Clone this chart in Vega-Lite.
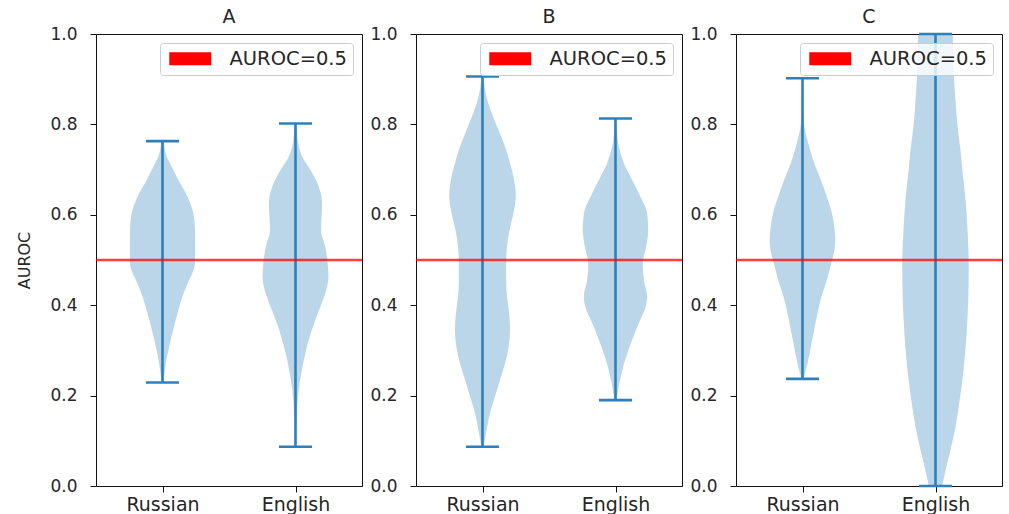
{
  "$schema": "https://vega.github.io/schema/vega-lite/v6.json",
  "background": "white",
  "padding": {"left": 16, "top": 7, "right": 5, "bottom": 0},
  "datasets": {
    "violin": [
      {"panel":"A","lang":"Russian","auroc":0.231,"lo":0.992,"hi":1.008},
      {"panel":"A","lang":"Russian","auroc":0.271,"lo":0.975,"hi":1.025},
      {"panel":"A","lang":"Russian","auroc":0.308,"lo":0.950,"hi":1.050},
      {"panel":"A","lang":"Russian","auroc":0.345,"lo":0.920,"hi":1.080},
      {"panel":"A","lang":"Russian","auroc":0.382,"lo":0.887,"hi":1.113},
      {"panel":"A","lang":"Russian","auroc":0.419,"lo":0.850,"hi":1.150},
      {"panel":"A","lang":"Russian","auroc":0.456,"lo":0.800,"hi":1.200},
      {"panel":"A","lang":"Russian","auroc":0.478,"lo":0.766,"hi":1.234},
      {"panel":"A","lang":"Russian","auroc":0.493,"lo":0.756,"hi":1.244},
      {"panel":"A","lang":"Russian","auroc":0.529,"lo":0.755,"hi":1.245},
      {"panel":"A","lang":"Russian","auroc":0.566,"lo":0.756,"hi":1.244},
      {"panel":"A","lang":"Russian","auroc":0.603,"lo":0.768,"hi":1.232},
      {"panel":"A","lang":"Russian","auroc":0.640,"lo":0.812,"hi":1.188},
      {"panel":"A","lang":"Russian","auroc":0.677,"lo":0.881,"hi":1.119},
      {"panel":"A","lang":"Russian","auroc":0.714,"lo":0.944,"hi":1.056},
      {"panel":"A","lang":"Russian","auroc":0.730,"lo":0.970,"hi":1.030},
      {"panel":"A","lang":"Russian","auroc":0.762,"lo":0.990,"hi":1.010},
      {"panel":"A","lang":"English","auroc":0.087,"lo":1.996,"hi":2.004},
      {"panel":"A","lang":"English","auroc":0.161,"lo":1.990,"hi":2.010},
      {"panel":"A","lang":"English","auroc":0.212,"lo":1.976,"hi":2.024},
      {"panel":"A","lang":"English","auroc":0.249,"lo":1.957,"hi":2.043},
      {"panel":"A","lang":"English","auroc":0.286,"lo":1.932,"hi":2.068},
      {"panel":"A","lang":"English","auroc":0.323,"lo":1.900,"hi":2.100},
      {"panel":"A","lang":"English","auroc":0.360,"lo":1.860,"hi":2.140},
      {"panel":"A","lang":"English","auroc":0.397,"lo":1.812,"hi":2.188},
      {"panel":"A","lang":"English","auroc":0.434,"lo":1.768,"hi":2.232},
      {"panel":"A","lang":"English","auroc":0.463,"lo":1.752,"hi":2.248},
      {"panel":"A","lang":"English","auroc":0.493,"lo":1.758,"hi":2.242},
      {"panel":"A","lang":"English","auroc":0.529,"lo":1.776,"hi":2.224},
      {"panel":"A","lang":"English","auroc":0.566,"lo":1.808,"hi":2.192},
      {"panel":"A","lang":"English","auroc":0.625,"lo":1.800,"hi":2.200},
      {"panel":"A","lang":"English","auroc":0.662,"lo":1.825,"hi":2.175},
      {"panel":"A","lang":"English","auroc":0.699,"lo":1.887,"hi":2.113},
      {"panel":"A","lang":"English","auroc":0.729,"lo":1.950,"hi":2.050},
      {"panel":"A","lang":"English","auroc":0.760,"lo":1.980,"hi":2.020},
      {"panel":"A","lang":"English","auroc":0.802,"lo":1.992,"hi":2.008},
      {"panel":"B","lang":"Russian","auroc":0.087,"lo":0.992,"hi":1.008},
      {"panel":"B","lang":"Russian","auroc":0.124,"lo":0.969,"hi":1.031},
      {"panel":"B","lang":"Russian","auroc":0.161,"lo":0.944,"hi":1.056},
      {"panel":"B","lang":"Russian","auroc":0.198,"lo":0.906,"hi":1.094},
      {"panel":"B","lang":"Russian","auroc":0.235,"lo":0.868,"hi":1.132},
      {"panel":"B","lang":"Russian","auroc":0.271,"lo":0.831,"hi":1.169},
      {"panel":"B","lang":"Russian","auroc":0.308,"lo":0.803,"hi":1.197},
      {"panel":"B","lang":"Russian","auroc":0.345,"lo":0.793,"hi":1.207},
      {"panel":"B","lang":"Russian","auroc":0.382,"lo":0.800,"hi":1.200},
      {"panel":"B","lang":"Russian","auroc":0.419,"lo":0.816,"hi":1.184},
      {"panel":"B","lang":"Russian","auroc":0.456,"lo":0.822,"hi":1.178},
      {"panel":"B","lang":"Russian","auroc":0.493,"lo":0.822,"hi":1.178},
      {"panel":"B","lang":"Russian","auroc":0.529,"lo":0.816,"hi":1.184},
      {"panel":"B","lang":"Russian","auroc":0.566,"lo":0.797,"hi":1.203},
      {"panel":"B","lang":"Russian","auroc":0.603,"lo":0.768,"hi":1.232},
      {"panel":"B","lang":"Russian","auroc":0.640,"lo":0.750,"hi":1.250},
      {"panel":"B","lang":"Russian","auroc":0.677,"lo":0.762,"hi":1.238},
      {"panel":"B","lang":"Russian","auroc":0.714,"lo":0.793,"hi":1.207},
      {"panel":"B","lang":"Russian","auroc":0.751,"lo":0.831,"hi":1.169},
      {"panel":"B","lang":"Russian","auroc":0.788,"lo":0.881,"hi":1.119},
      {"panel":"B","lang":"Russian","auroc":0.825,"lo":0.931,"hi":1.069},
      {"panel":"B","lang":"Russian","auroc":0.861,"lo":0.970,"hi":1.030},
      {"panel":"B","lang":"Russian","auroc":0.907,"lo":0.992,"hi":1.008},
      {"panel":"B","lang":"English","auroc":0.190,"lo":1.992,"hi":2.008},
      {"panel":"B","lang":"English","auroc":0.212,"lo":1.980,"hi":2.020},
      {"panel":"B","lang":"English","auroc":0.249,"lo":1.955,"hi":2.045},
      {"panel":"B","lang":"English","auroc":0.286,"lo":1.920,"hi":2.080},
      {"panel":"B","lang":"English","auroc":0.323,"lo":1.875,"hi":2.125},
      {"panel":"B","lang":"English","auroc":0.360,"lo":1.825,"hi":2.175},
      {"panel":"B","lang":"English","auroc":0.397,"lo":1.772,"hi":2.228},
      {"panel":"B","lang":"English","auroc":0.419,"lo":1.762,"hi":2.238},
      {"panel":"B","lang":"English","auroc":0.456,"lo":1.787,"hi":2.213},
      {"panel":"B","lang":"English","auroc":0.493,"lo":1.795,"hi":2.205},
      {"panel":"B","lang":"English","auroc":0.529,"lo":1.770,"hi":2.230},
      {"panel":"B","lang":"English","auroc":0.566,"lo":1.754,"hi":2.246},
      {"panel":"B","lang":"English","auroc":0.603,"lo":1.762,"hi":2.238},
      {"panel":"B","lang":"English","auroc":0.640,"lo":1.812,"hi":2.188},
      {"panel":"B","lang":"English","auroc":0.677,"lo":1.875,"hi":2.125},
      {"panel":"B","lang":"English","auroc":0.714,"lo":1.937,"hi":2.063},
      {"panel":"B","lang":"English","auroc":0.751,"lo":1.975,"hi":2.025},
      {"panel":"B","lang":"English","auroc":0.788,"lo":1.990,"hi":2.010},
      {"panel":"B","lang":"English","auroc":0.813,"lo":1.994,"hi":2.006},
      {"panel":"C","lang":"Russian","auroc":0.238,"lo":0.992,"hi":1.008},
      {"panel":"C","lang":"Russian","auroc":0.271,"lo":0.962,"hi":1.038},
      {"panel":"C","lang":"Russian","auroc":0.308,"lo":0.937,"hi":1.063},
      {"panel":"C","lang":"Russian","auroc":0.345,"lo":0.912,"hi":1.088},
      {"panel":"C","lang":"Russian","auroc":0.382,"lo":0.887,"hi":1.113},
      {"panel":"C","lang":"Russian","auroc":0.419,"lo":0.857,"hi":1.143},
      {"panel":"C","lang":"Russian","auroc":0.456,"lo":0.817,"hi":1.183},
      {"panel":"C","lang":"Russian","auroc":0.493,"lo":0.784,"hi":1.216},
      {"panel":"C","lang":"Russian","auroc":0.522,"lo":0.760,"hi":1.240},
      {"panel":"C","lang":"Russian","auroc":0.544,"lo":0.753,"hi":1.247},
      {"panel":"C","lang":"Russian","auroc":0.566,"lo":0.758,"hi":1.242},
      {"panel":"C","lang":"Russian","auroc":0.603,"lo":0.778,"hi":1.222},
      {"panel":"C","lang":"Russian","auroc":0.640,"lo":0.817,"hi":1.183},
      {"panel":"C","lang":"Russian","auroc":0.677,"lo":0.862,"hi":1.138},
      {"panel":"C","lang":"Russian","auroc":0.714,"lo":0.912,"hi":1.088},
      {"panel":"C","lang":"Russian","auroc":0.751,"lo":0.950,"hi":1.050},
      {"panel":"C","lang":"Russian","auroc":0.802,"lo":0.988,"hi":1.012},
      {"panel":"C","lang":"Russian","auroc":0.850,"lo":0.995,"hi":1.005},
      {"panel":"C","lang":"Russian","auroc":0.902,"lo":0.997,"hi":1.003},
      {"panel":"C","lang":"English","auroc":0.000,"lo":1.950,"hi":2.050},
      {"panel":"C","lang":"English","auroc":0.040,"lo":1.920,"hi":2.080},
      {"panel":"C","lang":"English","auroc":0.080,"lo":1.887,"hi":2.113},
      {"panel":"C","lang":"English","auroc":0.130,"lo":1.850,"hi":2.150},
      {"panel":"C","lang":"English","auroc":0.190,"lo":1.818,"hi":2.182},
      {"panel":"C","lang":"English","auroc":0.260,"lo":1.788,"hi":2.212},
      {"panel":"C","lang":"English","auroc":0.338,"lo":1.766,"hi":2.234},
      {"panel":"C","lang":"English","auroc":0.410,"lo":1.754,"hi":2.246},
      {"panel":"C","lang":"English","auroc":0.485,"lo":1.750,"hi":2.250},
      {"panel":"C","lang":"English","auroc":0.560,"lo":1.758,"hi":2.242},
      {"panel":"C","lang":"English","auroc":0.633,"lo":1.774,"hi":2.226},
      {"panel":"C","lang":"English","auroc":0.690,"lo":1.795,"hi":2.205},
      {"panel":"C","lang":"English","auroc":0.743,"lo":1.812,"hi":2.188},
      {"panel":"C","lang":"English","auroc":0.790,"lo":1.832,"hi":2.168},
      {"panel":"C","lang":"English","auroc":0.854,"lo":1.850,"hi":2.150},
      {"panel":"C","lang":"English","auroc":0.930,"lo":1.865,"hi":2.135},
      {"panel":"C","lang":"English","auroc":1.000,"lo":1.870,"hi":2.130}
    ],
    "bars": [
      {"panel":"A","lang":"Russian","min":0.229,"max":0.763},
      {"panel":"A","lang":"English","min":0.087,"max":0.802},
      {"panel":"B","lang":"Russian","min":0.087,"max":0.906},
      {"panel":"B","lang":"English","min":0.190,"max":0.813},
      {"panel":"C","lang":"Russian","min":0.237,"max":0.902},
      {"panel":"C","lang":"English","min":0.0,"max":1.0}
    ],
    "reference": [
      {"label":"AUROC=0.5","value":0.5}
    ]
  },
  "hconcat": [
    {
      "width": 266, "height": 452,
      "title": "A",
      "layer": [
        {"data": {"name": "violin"}, "transform": [{"filter": "datum.panel == 'A'"}],
         "mark": {"type": "area", "orient": "horizontal", "interpolate": "monotone", "color": "#1f77b4", "fillOpacity": 0.3, "strokeWidth": 0},
         "encoding": {
           "x": {"field": "lo", "type": "quantitative", "scale": {"domain": [0.5, 2.5], "nice": false, "zero": false}, "axis": null},
           "x2": {"field": "hi"},
           "y": {"field": "auroc", "type": "quantitative", "scale": {"domain": [0, 1], "nice": false}, "title": "AUROC", "axis": {"values": [0, 0.2, 0.4, 0.6, 0.8, 1.0], "format": ".1f"}},
           "detail": {"field": "lang"}}},
        {"data": {"name": "bars"}, "transform": [{"filter": "datum.panel == 'A'"}],
         "encoding": {
           "x": {"field": "lang", "type": "nominal", "sort": ["Russian", "English"], "scale": {"type": "point", "padding": 0.5}, "title": null, "axis": {"labelAngle": 0}}},
         "layer": [
           {"mark": {"type": "rule", "color": "#2f7fba", "strokeWidth": 2.6},
            "encoding": {"y": {"field": "min", "type": "quantitative", "title": "AUROC"}, "y2": {"field": "max"}}},
           {"mark": {"type": "tick", "orient": "horizontal", "color": "#2f7fba", "size": 33, "thickness": 2.6, "opacity": 1},
            "encoding": {"y": {"field": "min", "type": "quantitative", "title": "AUROC"}}},
           {"mark": {"type": "tick", "orient": "horizontal", "color": "#2f7fba", "size": 33, "thickness": 2.6, "opacity": 1},
            "encoding": {"y": {"field": "max", "type": "quantitative", "title": "AUROC"}}}
         ]},
        {"data": {"name": "reference"},
         "mark": {"type": "rule", "color": "#ff0000", "strokeWidth": 2.4, "opacity": 0.75},
         "encoding": {"y": {"field": "value", "type": "quantitative", "title": "AUROC"}}},
        {"data": {"name": "reference"},
         "mark": {"type": "rect", "strokeWidth": 0, "opacity": 1},
         "encoding": {
           "y": {"field": "value", "type": "quantitative", "title": "AUROC"},
           "y2": {"field": "value"},
           "color": {"field": "label", "type": "nominal", "scale": {"range": ["#ff0000"]},
             "legend": {"title": null, "symbolType": "M-1,-1H5.46V1H-1Z", "symbolSize": 169, "symbolStrokeWidth": 0}}}}
      ],
      "resolve": {"scale": {"x": "independent"}}
    },
    {
      "width": 266, "height": 452,
      "title": "B",
      "layer": [
        {"data": {"name": "violin"}, "transform": [{"filter": "datum.panel == 'B'"}],
         "mark": {"type": "area", "orient": "horizontal", "interpolate": "monotone", "color": "#1f77b4", "fillOpacity": 0.3, "strokeWidth": 0},
         "encoding": {
           "x": {"field": "lo", "type": "quantitative", "scale": {"domain": [0.5, 2.5], "nice": false, "zero": false}, "axis": null},
           "x2": {"field": "hi"},
           "y": {"field": "auroc", "type": "quantitative", "scale": {"domain": [0, 1], "nice": false}, "title": null, "axis": {"values": [0, 0.2, 0.4, 0.6, 0.8, 1.0], "format": ".1f"}},
           "detail": {"field": "lang"}}},
        {"data": {"name": "bars"}, "transform": [{"filter": "datum.panel == 'B'"}],
         "encoding": {
           "x": {"field": "lang", "type": "nominal", "sort": ["Russian", "English"], "scale": {"type": "point", "padding": 0.5}, "title": null, "axis": {"labelAngle": 0}}},
         "layer": [
           {"mark": {"type": "rule", "color": "#2f7fba", "strokeWidth": 2.6},
            "encoding": {"y": {"field": "min", "type": "quantitative", "title": null}, "y2": {"field": "max"}}},
           {"mark": {"type": "tick", "orient": "horizontal", "color": "#2f7fba", "size": 33, "thickness": 2.6, "opacity": 1},
            "encoding": {"y": {"field": "min", "type": "quantitative", "title": null}}},
           {"mark": {"type": "tick", "orient": "horizontal", "color": "#2f7fba", "size": 33, "thickness": 2.6, "opacity": 1},
            "encoding": {"y": {"field": "max", "type": "quantitative", "title": null}}}
         ]},
        {"data": {"name": "reference"},
         "mark": {"type": "rule", "color": "#ff0000", "strokeWidth": 2.4, "opacity": 0.75},
         "encoding": {"y": {"field": "value", "type": "quantitative", "title": null}}},
        {"data": {"name": "reference"},
         "mark": {"type": "rect", "strokeWidth": 0, "opacity": 1},
         "encoding": {
           "y": {"field": "value", "type": "quantitative", "title": null},
           "y2": {"field": "value"},
           "color": {"field": "label", "type": "nominal", "scale": {"range": ["#ff0000"]},
             "legend": {"title": null, "symbolType": "M-1,-1H5.46V1H-1Z", "symbolSize": 169, "symbolStrokeWidth": 0}}}}
      ],
      "resolve": {"scale": {"x": "independent"}}
    },
    {
      "width": 266, "height": 452,
      "title": "C",
      "layer": [
        {"data": {"name": "violin"}, "transform": [{"filter": "datum.panel == 'C'"}],
         "mark": {"type": "area", "orient": "horizontal", "interpolate": "monotone", "color": "#1f77b4", "fillOpacity": 0.3, "strokeWidth": 0},
         "encoding": {
           "x": {"field": "lo", "type": "quantitative", "scale": {"domain": [0.5, 2.5], "nice": false, "zero": false}, "axis": null},
           "x2": {"field": "hi"},
           "y": {"field": "auroc", "type": "quantitative", "scale": {"domain": [0, 1], "nice": false}, "title": null, "axis": {"values": [0, 0.2, 0.4, 0.6, 0.8, 1.0], "format": ".1f"}},
           "detail": {"field": "lang"}}},
        {"data": {"name": "bars"}, "transform": [{"filter": "datum.panel == 'C'"}],
         "encoding": {
           "x": {"field": "lang", "type": "nominal", "sort": ["Russian", "English"], "scale": {"type": "point", "padding": 0.5}, "title": null, "axis": {"labelAngle": 0}}},
         "layer": [
           {"mark": {"type": "rule", "color": "#2f7fba", "strokeWidth": 2.6},
            "encoding": {"y": {"field": "min", "type": "quantitative", "title": null}, "y2": {"field": "max"}}},
           {"mark": {"type": "tick", "orient": "horizontal", "color": "#2f7fba", "size": 33, "thickness": 2.6, "opacity": 1},
            "encoding": {"y": {"field": "min", "type": "quantitative", "title": null}}},
           {"mark": {"type": "tick", "orient": "horizontal", "color": "#2f7fba", "size": 33, "thickness": 2.6, "opacity": 1},
            "encoding": {"y": {"field": "max", "type": "quantitative", "title": null}}}
         ]},
        {"data": {"name": "reference"},
         "mark": {"type": "rule", "color": "#ff0000", "strokeWidth": 2.4, "opacity": 0.75},
         "encoding": {"y": {"field": "value", "type": "quantitative", "title": null}}},
        {"data": {"name": "reference"},
         "mark": {"type": "rect", "strokeWidth": 0, "opacity": 1},
         "encoding": {
           "y": {"field": "value", "type": "quantitative", "title": null},
           "y2": {"field": "value"},
           "color": {"field": "label", "type": "nominal", "scale": {"range": ["#ff0000"]},
             "legend": {"title": null, "symbolType": "M-1,-1H5.46V1H-1Z", "symbolSize": 169, "symbolStrokeWidth": 0}}}}
      ],
      "resolve": {"scale": {"x": "independent"}}
    }
  ],
  "spacing": 54,
  "bounds": "flush",
  "resolve": {"scale": {"color": "independent"}, "legend": {"color": "independent"}},
  "config": {
    "font": "DejaVu Sans",
    "view": {"stroke": "#111111", "strokeWidth": 1},
    "axis": {"domain": false, "grid": false, "tickColor": "#111111", "tickSize": 6, "tickWidth": 1, "labelColor": "#262626", "titleColor": "#262626", "labelFont": "DejaVu Sans", "titleFont": "DejaVu Sans"},
    "axisY": {"labelFontSize": 17, "labelPadding": 13, "titleFontSize": 16, "titleFontWeight": "normal", "titlePadding": 17},
    "axisX": {"labelFontSize": 19, "labelPadding": 3},
    "title": {"fontSize": 19, "fontWeight": "normal", "offset": -2, "color": "#262626", "font": "DejaVu Sans"},
    "legend": {"orient": "top-right", "offset": 9, "padding": 6, "fillColor": "rgba(255,255,255,0.8)", "strokeColor": "#cccccc", "cornerRadius": 3, "labelFontSize": 19.5, "labelOffset": 44, "labelColor": "#262626", "labelFont": "DejaVu Sans"}
  }
}
